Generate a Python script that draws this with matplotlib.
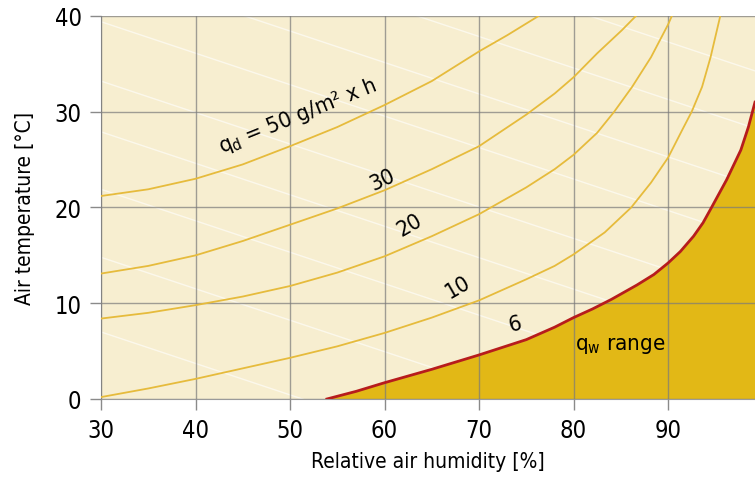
import numpy as np
import matplotlib.pyplot as plt

plt.rcParams['font.family'] = ['DejaVu Sans']
plt.rcParams['font.stretch'] = 'condensed'

# curves of drying rate q_d
x50 = [30, 35, 40, 45, 50, 55, 60, 65, 70, 73, 76.3]
t50 = [21.2, 21.9, 23.0, 24.5, 26.4, 28.4, 30.7, 33.2, 36.3, 38.0, 40.0]

x30 = [30, 35, 40, 45, 50, 55, 60, 65, 70, 75, 78, 80, 82.5, 85.1, 86.6]
t30 = [13.1, 13.9, 15.0, 16.5, 18.2, 19.9, 21.8, 24.0, 26.4, 29.7, 31.9, 33.6, 36.1, 38.5, 40.0]

x20 = [30, 35, 40, 45, 50, 55, 60, 65, 70, 75, 78, 80, 82.5, 84.3, 86.2, 88.2, 90, 90.4]
t20 = [8.4, 9.0, 9.8, 10.7, 11.8, 13.2, 14.9, 17.0, 19.3, 22.1, 24.0, 25.5, 27.8, 30.0, 32.6, 35.7,
       39.1, 40.0]

x10 = [30, 35, 40, 45, 50, 55, 60, 65, 70, 75, 78, 80, 83.3, 86.1, 88.2, 90, 91.5, 92.5, 93.6,
       94.5, 95.5]
t10 = [0.2, 1.1, 2.1, 3.2, 4.3, 5.5, 6.9, 8.5, 10.3, 12.5, 13.9, 15.1, 17.4, 20.0, 22.6, 25.2,
       28.1, 30.0, 32.6, 35.7, 39.9]

# q = 6 boundary of the q_w range
x6 = [53.9, 57, 60, 65, 70, 75, 78, 80, 82, 84, 86.7, 88.5, 90, 91.3, 92.7, 93.7, 94.6, 96.2,
      97.7, 98.5, 99.2]
t6 = [0.0, 0.8, 1.7, 3.1, 4.6, 6.2, 7.5, 8.5, 9.4, 10.4, 11.9, 13.0, 14.2, 15.4, 17.0, 18.4,
      20.0, 22.9, 26.0, 28.4, 31.0]

# faint white background lines (temperature at 30 % and at 100 %)
bg_start = [7.0, 14.8, 21.9, 27.9, 33.2, 39.4, 45, 51, 57, 63]
bg_end = [t - 23 for t in bg_start]

xticks = [30, 40, 50, 60, 70, 80, 90]
yticks = [0, 10, 20, 30, 40]

cream = '#f7eed0'
gold = '#e2b816'
red = '#b71c1c'
yellow = '#e6bb3c'

fig = plt.figure(figsize=(7.55, 4.81), dpi=100)
ax = fig.add_axes([0.1338, 0.1684, 0.8662, 0.7963])
ax.set_facecolor(cream)

for a, b in zip(bg_start, bg_end):
    ax.plot([30, 100], [a, b], color='white', lw=1, alpha=0.6, zorder=1)

ax.fill_between(x6, t6, 0, color=gold, lw=0, zorder=2)

for xs, ts in [(x50, t50), (x30, t30), (x20, t20), (x10, t10)]:
    ax.plot(xs, ts, color=yellow, lw=1.3, zorder=3)
ax.plot(x6, t6, color=red, lw=2, zorder=4)

ax.set_xlim(30, 99.2)
ax.set_ylim(0, 40)
ax.set_xticks(xticks)
ax.set_yticks(yticks)
ax.grid(True, color='#7a7a7a', lw=1, alpha=0.7, zorder=2.5)
ax.set_axisbelow(False)
for s in ['top', 'right']:
    ax.spines[s].set_visible(False)
for s in ['left', 'bottom']:
    ax.spines[s].set_color('#9a9a9a')
ax.tick_params(length=8, width=1, color='#8a8a8a', labelsize=17, pad=6)
ax.set_xlabel('Relative air humidity [%]', fontsize=15, labelpad=6)
ax.set_ylabel('Air temperature [°C]', fontsize=15, labelpad=14)

ax.text(50.8, 29.6, r'q$_\mathregular{d}$ = 50 g/m² x h', fontsize=16,
        rotation=22, ha='center', va='center', zorder=5)
ax.text(59.8, 23.0, '30', fontsize=16, rotation=25, ha='center', va='center', zorder=5)
ax.text(62.7, 18.2, '20', fontsize=16, rotation=30, ha='center', va='center', zorder=5)
ax.text(67.8, 11.8, '10', fontsize=16, rotation=30, ha='center', va='center', zorder=5)
ax.text(73.8, 7.9, '6', fontsize=16, rotation=15, ha='center', va='center', zorder=5)
ax.text(84.9, 5.6, r'q$_\mathregular{w}$ range', fontsize=16,
        ha='center', va='center', zorder=5)

fig.savefig('out.png', dpi=100)
